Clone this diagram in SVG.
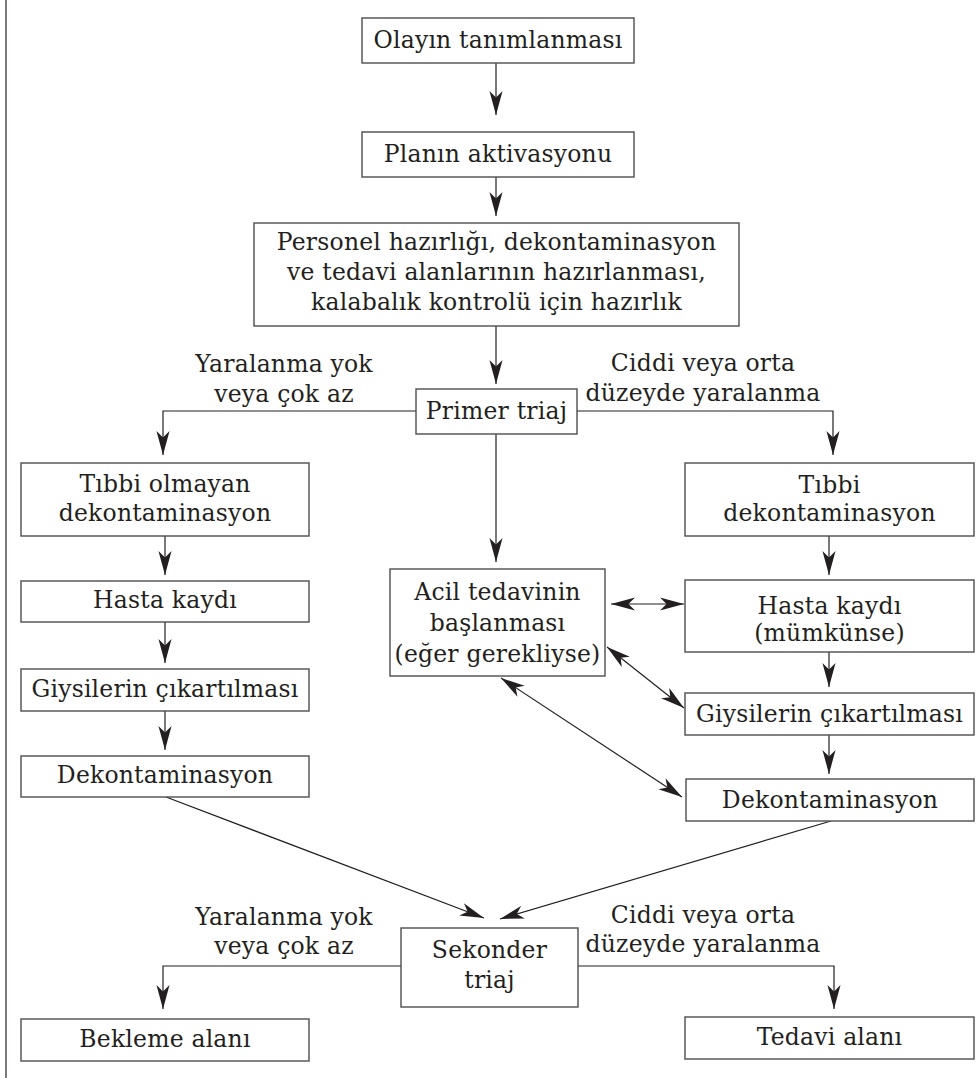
<svg xmlns="http://www.w3.org/2000/svg" width="978" height="1078" viewBox="0 0 978 1078">
<style>
.box{fill:#fff;stroke:#4d4d4d;stroke-width:1.4}
.t{font-family:"DejaVu Serif","Liberation Serif",serif;font-size:23.5px;letter-spacing:0.2px;fill:#231f20;text-anchor:middle}
.c{fill:none;stroke:#231f20;stroke-width:1.2}
.a{marker-end:url(#ah)}
.d{marker-start:url(#ah);marker-end:url(#ah)}
</style>
<defs>
<marker id="ah" markerUnits="userSpaceOnUse" markerWidth="24" markerHeight="14" viewBox="0 0 22 12" refX="22" refY="6" orient="auto-start-reverse">
<path d="M0,0 L22,6 L0,12 L6,6 Z" fill="#231f20"/>
</marker>
</defs>
<rect width="978" height="1078" fill="#fff"/>
<line x1="6" y1="0" x2="6" y2="1078" stroke="#231f20" stroke-width="1.2"/>
<g id="connectors">
<path class="c a" d="M496,63 V115"/>
<path class="c a" d="M496,177 V216"/>
<path class="c a" d="M496,326 V384"/>
<path class="c a" d="M416,411 H163 V455"/>
<path class="c a" d="M577,411 H833 V455"/>
<path class="c a" d="M496,434 V562"/>
<path class="c a" d="M165,536 V575"/>
<path class="c a" d="M165,622 V663"/>
<path class="c a" d="M165,711 V750"/>
<path class="c a" d="M829,536 V575"/>
<path class="c a" d="M829,652 V687"/>
<path class="c a" d="M829,735 V774"/>
<path class="c d" d="M611,604 L684,604"/>
<path class="c d" d="M607,647 L684,708"/>
<path class="c d" d="M501,678 L682,797"/>
<path class="c a" d="M166,797 L484,918"/>
<path class="c a" d="M831,821 L500,919"/>
<path class="c a" d="M401,966 H163 V1009"/>
<path class="c a" d="M578,966 H834 V1009"/>
</g>
<g id="labels">
<text class="t" x="284" y="372">Yaralanma yok</text>
<text class="t" x="284" y="402">veya çok az</text>
<text class="t" x="703" y="371">Ciddi veya orta</text>
<text class="t" x="703" y="401">düzeyde yaralanma</text>
<text class="t" x="284" y="925">Yaralanma yok</text>
<text class="t" x="284" y="954">veya çok az</text>
<text class="t" x="703" y="923">Ciddi veya orta</text>
<text class="t" x="703" y="952">düzeyde yaralanma</text>
</g>
<g id="n1"><rect class="box" x="362" y="18" width="272" height="45"/><text class="t" x="498" y="48">Olayın tanımlanması</text></g>
<g id="n2"><rect class="box" x="362" y="132" width="272" height="45"/><text class="t" x="498" y="162">Planın aktivasyonu</text></g>
<g id="n3"><rect class="box" x="254" y="223" width="485" height="103"/><text class="t" x="496.5" y="250">Personel hazırlığı, dekontaminasyon</text><text class="t" x="496.5" y="280">ve tedavi alanlarının hazırlanması,</text><text class="t" x="496.5" y="310">kalabalık kontrolü için hazırlık</text></g>
<g id="n4"><rect class="box" x="416" y="389" width="161" height="45"/><text class="t" x="496.5" y="419">Primer triaj</text></g>
<g id="n5"><rect class="box" x="21" y="463" width="288" height="73"/><text class="t" x="165" y="492">Tıbbi olmayan</text><text class="t" x="165" y="521">dekontaminasyon</text></g>
<g id="n6"><rect class="box" x="21" y="581" width="288" height="41"/><text class="t" x="165" y="608">Hasta kaydı</text></g>
<g id="n7"><rect class="box" x="21" y="669" width="288" height="42"/><text class="t" x="165" y="697">Giysilerin çıkartılması</text></g>
<g id="n8"><rect class="box" x="21" y="756" width="288" height="41"/><text class="t" x="165" y="783">Dekontaminasyon</text></g>
<g id="n9"><rect class="box" x="390" y="569" width="215" height="107"/><text class="t" x="497.5" y="600">Acil tedavinin</text><text class="t" x="497.5" y="631">başlanması</text><text class="t" x="497.5" y="662">(eğer gerekliyse)</text></g>
<g id="n10"><rect class="box" x="685" y="463" width="289" height="73"/><text class="t" x="829.5" y="493">Tıbbi</text><text class="t" x="829.5" y="521">dekontaminasyon</text></g>
<g id="n11"><rect class="box" x="685" y="580" width="289" height="72"/><text class="t" x="829.5" y="614">Hasta kaydı</text><text class="t" x="829.5" y="641">(mümkünse)</text></g>
<g id="n12"><rect class="box" x="685" y="693" width="289" height="42"/><text class="t" x="829.5" y="722">Giysilerin çıkartılması</text></g>
<g id="n13"><rect class="box" x="686" y="779" width="288" height="42"/><text class="t" x="830" y="808">Dekontaminasyon</text></g>
<g id="n14"><rect class="box" x="401" y="928" width="177" height="79"/><text class="t" x="489.5" y="958">Sekonder</text><text class="t" x="489.5" y="988">triaj</text></g>
<g id="n15"><rect class="box" x="21" y="1019" width="288" height="42"/><text class="t" x="165" y="1047">Bekleme alanı</text></g>
<g id="n16"><rect class="box" x="685" y="1017" width="289" height="42"/><text class="t" x="829.5" y="1045">Tedavi alanı</text></g>
</svg>
